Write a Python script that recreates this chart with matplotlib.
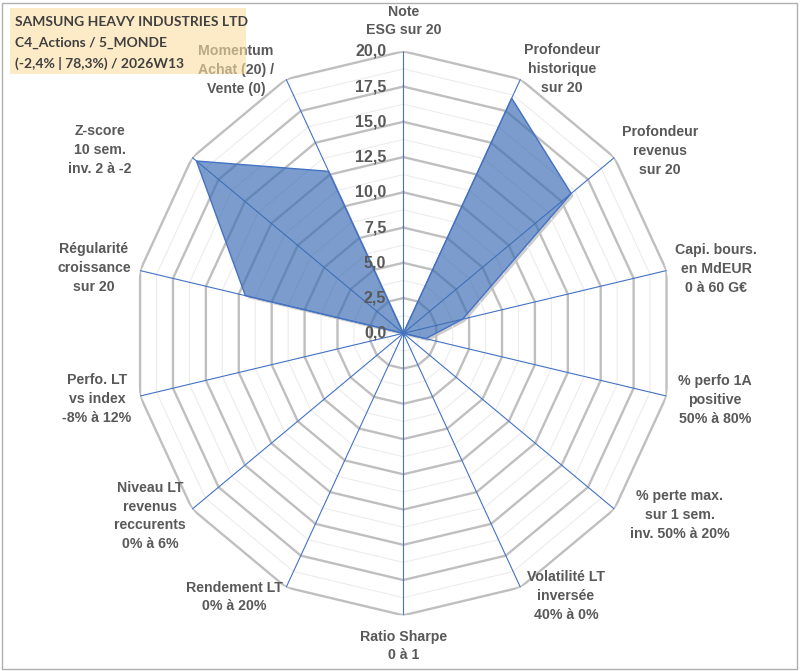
import numpy as np
import matplotlib
matplotlib.use("Agg")
import matplotlib.pyplot as plt
from matplotlib.transforms import offset_copy
from matplotlib.patches import Rectangle

# ---- data ----
categories = [
    "Note\nESG sur 20",
    "Profondeur\nhistorique\nsur 20",
    "Profondeur\nrevenus\nsur 20",
    "Capi. bours.\nen MdEUR\n0 à 60 G€",
    "% perfo 1A\npositive\n50% à 80%",
    "% perte max.\nsur 1 sem.\ninv. 50% à 20%",
    "Volatilité LT\ninversée\n40% à 0%",
    "Ratio Sharpe\n0 à 1",
    "Rendement LT\n0% à 20%",
    "Niveau LT\nrevenus\nreccurents\n0% à 6%",
    "Perfo. LT\nvs index\n-8% à 12%",
    "Régularité\ncroissance\nsur 20",
    "Z-score\n10 sem.\ninv. 2 à -2",
    "Momentum\nAchat (20) /\nVente (0)",
]
values = [0.0, 18.5, 15.9, 4.5, 1.7, 0.0, 0.0, 0.0, 0.0, 0.0, 0.0, 12.0, 19.6, 12.75]
radial_ticks = [0.0, 2.5, 5.0, 7.5, 10.0, 12.5, 15.0, 17.5, 20.0]
title_lines = ["SAMSUNG HEAVY INDUSTRIES LTD", "C4_Actions / 5_MONDE", "(-2,4% | 78,3%) / 2026W13"]

# label centres in pixels (layout)
label_pos = [(404, 21), (562, 69), (660, 151), (716, 269), (715, 400), (680, 515),
             (566, 596), (404, 646), (234, 597), (150, 516), (97, 399), (94, 268),
             (100, 150), (236, 70)]

W, H = 801, 671
fig = plt.figure(figsize=(W / 100, H / 100), dpi=100)
fig.patch.set_facecolor("white")

cx, cy, rx, ry = 403.3, 333.3, 270, 282
ax = fig.add_axes([(cx - rx) / W, (H - cy - ry) / H, 2 * rx / W, 2 * ry / H], projection="polar")
ax.set_aspect("auto")
ax.set_theta_zero_location("N")
ax.set_theta_direction(-1)
ax.set_ylim(0, 20)
ax.set_xticks([])
ax.set_yticks([])
ax.grid(False)
ax.spines["polar"].set_visible(False)
ax.patch.set_visible(False)

n = len(categories)
angles = np.arange(n) * 2 * np.pi / n
closed_angles = np.append(angles, angles[0])
vals = np.append(values, values[0])

# shadow (visible only outside the shape)
shadow_tr = offset_copy(ax.transData, fig=fig, x=2.5, y=-2.5, units="dots")
ax.fill(closed_angles, vals, color="black", alpha=0.2, lw=0, zorder=0.5, transform=shadow_tr)
ax.fill(closed_angles, vals, color="white", lw=0, zorder=0.6)

# polygon grid
for r in np.arange(1.25, 20.01, 1.25):
    major = abs(r / 2.5 - round(r / 2.5)) < 1e-6
    ax.plot(closed_angles, [r] * (n + 1),
            color="#bfbfbf" if major else "#ececec",
            lw=1.7 if major else 0.8, zorder=1, solid_joinstyle="miter")

# spokes
for a in angles:
    ax.plot([a, a], [0, 20], color="#4472c4", lw=0.8, zorder=2)

# data polygon
ax.fill(closed_angles, vals, color="#3c6eb4", alpha=0.68, zorder=3, lw=0)
ax.plot(closed_angles, vals, color="#4472c4", lw=1.0, zorder=4)

# radial tick labels
tr = offset_copy(ax.transData, fig=fig, x=-17, y=0, units="dots")
for t in radial_ticks:
    ax.text(0, t, f"{t:.1f}".replace(".", ","), transform=tr, ha="right", va="center",
            fontsize=11.5, fontweight="bold", color="#595959", family="Liberation Sans", zorder=5)

# category labels
for lab, (x, y) in zip(categories, label_pos):
    fig.text(x / W, 1 - y / H, lab, ha="center", va="center", fontsize=10.2,
             fontweight="bold", color="#595959", family="Liberation Sans",
             linespacing=1.42, zorder=5)

# title box
fig.patches.append(Rectangle((10 / W, 1 - 74 / H), 236 / W, 66 / H, transform=fig.transFigure,
                             facecolor="#fcdfa3", alpha=0.6, edgecolor="none", zorder=10))
for i, line in enumerate(title_lines):
    fig.text(15.5 / W, 1 - (21.7 + 21 * i) / H, line, ha="left", va="center", fontsize=10.0,
             color="#404040", family="Lato", fontweight="bold", zorder=11)

# frame
fig.patches.append(Rectangle((1.5 / W, 2.5 / H), 795 / W, 666 / H, transform=fig.transFigure,
                             facecolor="none", edgecolor="#b0b0b0", lw=1.0, zorder=12))

fig.savefig("out.png", dpi=100, facecolor="white")
